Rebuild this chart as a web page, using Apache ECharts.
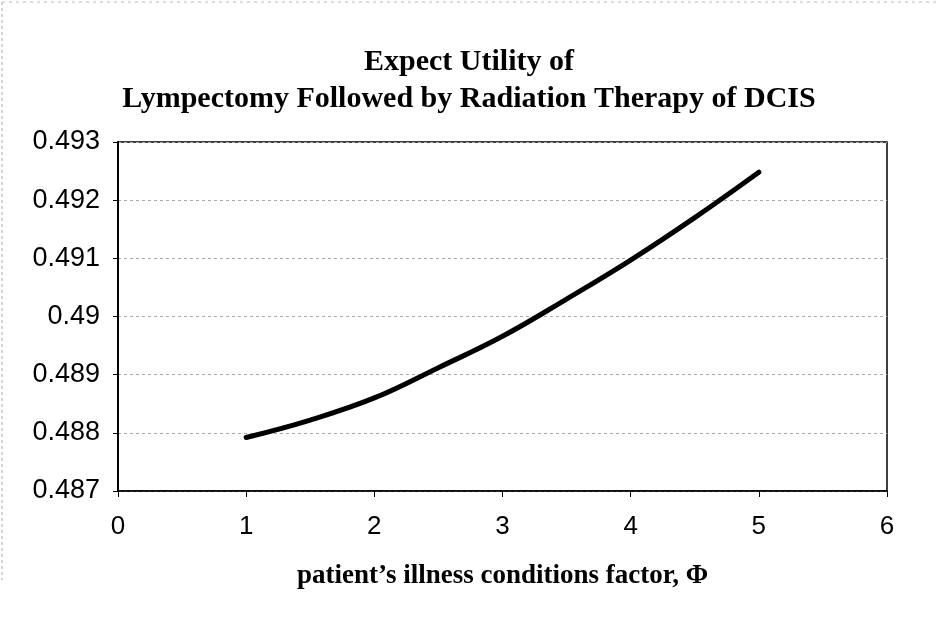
<!DOCTYPE html>
<html>
<head>
<meta charset="utf-8">
<script src="https://cdn.jsdelivr.net/npm/echarts@6/dist/echarts.min.js"></script>
<style>
html, body { margin: 0; padding: 0; background: #fff; }
#chart { width: 938px; height: 627px; }
</style>
</head>
<body>
<div id="chart"></div>
<script>
// illness conditions factor (x) and expected utility (y)
var phiValues = [1, 1.5, 2, 2.5, 3, 3.5, 4, 4.5, 5];
var utilityValues = [0.48792, 0.48822, 0.4886, 0.48912, 0.48966, 0.4903, 0.49097, 0.4917, 0.49248];

var titleLines = ['Expect Utility of', 'Lympectomy Followed by Radiation Therapy of DCIS'];
var xName = 'patient\u2019s illness conditions factor, \u03A6';

var points = [];
for (var i = 0; i < phiValues.length; i++) {
    points.push([phiValues[i], utilityValues[i]]);
}

var mychart = echarts.init(document.getElementById('chart'), null, { renderer: 'canvas' });

var option = {
    backgroundColor: '#fff',
    animation: false,
    title: {
        text: titleLines.join('\n'),
        left: 'center',
        top: 39,
        textStyle: {
            fontFamily: '"Liberation Serif", "Times New Roman", serif',
            fontWeight: 'bold',
            fontSize: 30,
            lineHeight: 37,
            color: '#000'
        }
    },
    //outer frame, only left and top edges visible in the original
    graphic: [
        { type: 'line', shape: { x1: 2, y1: 2, x2: 2, y2: 580 }, style: { stroke: '#aaa', lineWidth: 1, lineDash: [3, 3] } },
        { type: 'line', shape: { x1: 2, y1: 2, x2: 936, y2: 2 }, style: { stroke: '#bbb', lineWidth: 1, lineDash: [3, 4] } }
    ],
    grid: {
        left: 118,
        right: 51,
        top: 142,
        bottom: 136,
        show: true,
        borderColor: '#000',
        borderWidth: 1.5
    },
    xAxis: {
        type: 'value',
        min: 0,
        max: 6,
        interval: 1,
        name: xName,
        nameLocation: 'middle',
        nameGap: 72,
        nameTextStyle: {
            fontFamily: '"Liberation Serif", "Times New Roman", serif',
            fontWeight: 'bold',
            fontSize: 27,
            color: '#000'
        },
        axisLine: { show: true, lineStyle: { color: '#000', width: 1.5 } },
        axisTick: { show: true, inside: false, length: 6, lineStyle: { color: '#000' } },
        axisLabel: {
            margin: 23,
            fontFamily: '"Liberation Sans", Arial, sans-serif',
            fontSize: 26,
            color: '#000'
        },
        splitLine: { show: false }
    },
    yAxis: {
        type: 'value',
        min: 0.487,
        max: 0.493,
        interval: 0.001,
        axisLine: { show: true, lineStyle: { color: '#000', width: 2 } },
        axisTick: { show: true, inside: false, length: 5, lineStyle: { color: '#000' } },
        axisLabel: {
            margin: 18,
            fontFamily: '"Liberation Sans", Arial, sans-serif',
            fontSize: 27,
            color: '#000',
            formatter: function (v) { return String(parseFloat(v.toFixed(3))); }
        },
        splitLine: { show: true, lineStyle: { color: '#aaa', width: 1, type: [3, 3] } }
    },
    series: [{
        type: 'line',
        data: points,
        smooth: 0.4,
        symbol: 'none',
        lineStyle: { color: '#000', width: 5, cap: 'round' }
    }]
};

mychart.setOption(option);
</script>
</body>
</html>
